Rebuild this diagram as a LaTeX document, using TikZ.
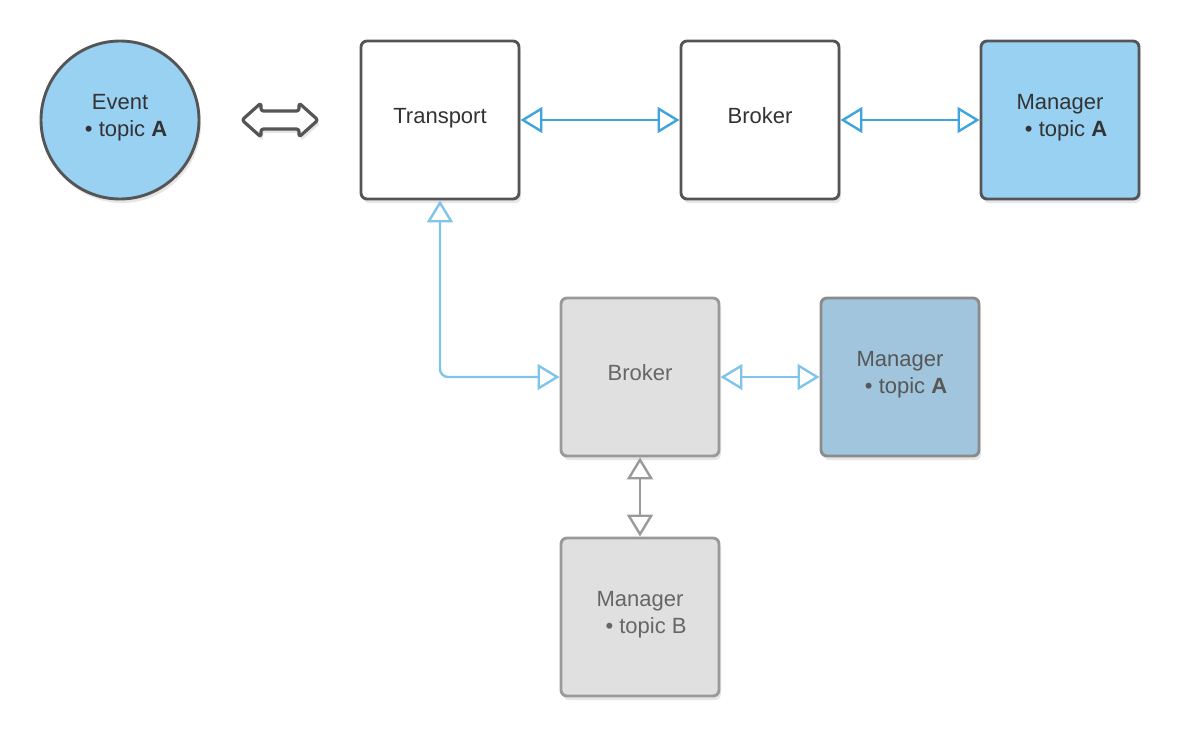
\documentclass[tikz,border=0pt]{standalone}
\usepackage{fontspec}
\setmainfont{Liberation Sans}
\usetikzlibrary{arrows.meta,shadows}
\definecolor{lblue}{HTML}{99D1F2}
\definecolor{dblue}{HTML}{A0C5DC}
\definecolor{lgray}{HTML}{E0E0E0}
\definecolor{dk}{HTML}{555555}
\definecolor{md}{HTML}{9A9A9A}
\definecolor{txt}{HTML}{333333}
\definecolor{txtg}{HTML}{666666}
\definecolor{arrA}{HTML}{3DA5DC}
\definecolor{arrB}{HTML}{80C4EA}
\tikzset{
  shad/.style={drop shadow={opacity=0.2,shadow xshift=2pt,shadow yshift=-4pt}},
  box/.style={draw=dk,line width=2.9pt,rounded corners=6pt,minimum width=158pt,minimum height=158pt,inner sep=0pt,shad,font=\fontsize{22}{27}\selectfont,text=txt,align=center},
  one/.style={text height=16pt,text depth=8.2pt},
  two/.style={text depth=9pt},
  gbox/.style={box,draw=md,fill=lgray,text=txtg},
  conn/.style={line width=2.4pt,{Triangle[open,fill=white,length=22pt,width=26pt]}-{Triangle[open,fill=white,length=22pt,width=26pt]}},
}
\begin{document}
\begin{tikzpicture}[x=1pt,y=-1pt]
\useasboundingbox (0,0) rectangle (1180,737);
\node[circle,draw=dk,line width=2.9pt,fill=lblue,minimum size=158pt,inner sep=0pt,shad,font=\fontsize{22}{27}\selectfont,text=txt,align=center,two] (ev) at (120,120) {Event\\\ \ \textbullet\ topic \textbf{A}};
\filldraw[draw=dk,fill=white,line width=3.2pt,line join=round,rounded corners=2.5pt,shad] (242,120) -- (261,103) -- (261,111) -- (299,111) -- (299,103) -- (318,120) -- (299,137) -- (299,129) -- (261,129) -- (261,137) -- cycle;
\node[box,fill=white,one] (tr) at (440,120) {Transport};
\node[box,fill=white,one] (br) at (760,120) {Broker};
\node[box,fill=lblue,two] (ma) at (1060,120) {Manager\\\ \ \textbullet\ topic \textbf{A}};
\node[gbox,one] (br2) at (640,377) {Broker};
\node[gbox,fill=dblue,draw=md!90!black,text=txtg!85!black,two] (ma2) at (900,377) {Manager\\\ \ \textbullet\ topic \textbf{A}};
\node[gbox,two] (mb) at (640,617) {Manager\\\ \ \textbullet\ topic B};
\draw[conn,draw=arrA] (tr.east) -- (br.west);
\draw[conn,draw=arrA] (br.east) -- (ma.west);
\draw[conn,draw=arrB,rounded corners=8pt] (tr.south) |- (br2.west);
\draw[conn,draw=arrB] (br2.east) -- (ma2.west);
\draw[conn,draw=md] (br2.south) -- (mb.north);
\end{tikzpicture}
\end{document}
